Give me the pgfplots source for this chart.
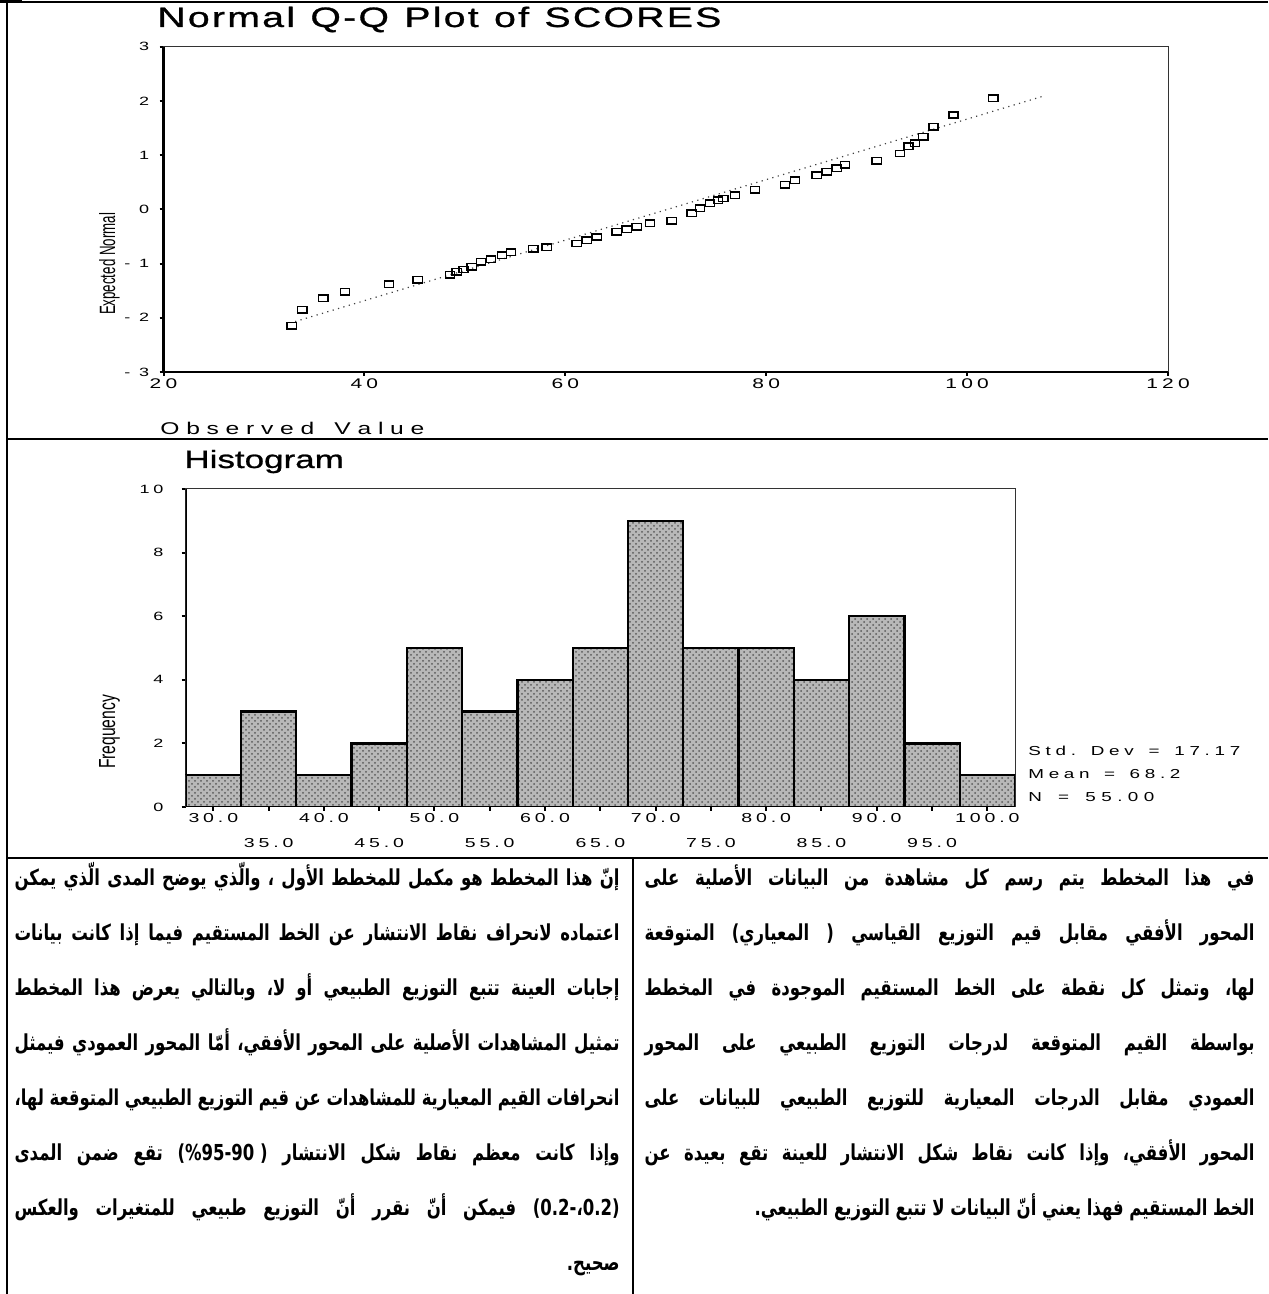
\documentclass[border=0pt]{standalone}
\usepackage{fontspec}
\usepackage{pgfplots}
\pgfplotsset{compat=1.18}
\usetikzlibrary{patterns}
\TeXXeTstate=1
\setmainfont{Liberation Sans}
\newfontfamily\spss{Liberation Sans}[FakeStretch=1.4,FakeBold=1]
\newfontfamily\spssl{Liberation Sans}[FakeStretch=1.45]
\newfontfamily\spsst{Liberation Sans}[FakeStretch=1.5,LetterSpace=30]
\newfontfamily\arab[Script=Arabic,FakeStretch=0.75]{DejaVu Sans}
\newfontfamily\dvs[FakeStretch=0.75]{DejaVu Sans}
\makeatletter
\newcommand\lfill[1]{\@tfor\lf@c:=#1\do{\lf@c\hfil}\unskip}
\makeatother
\newcommand\sptext[3]{\makebox[#1][s]{\fontsize{#2}{#2}\spss\lfill{#3}}}
\newcommand\sptextl[3]{\makebox[#1][s]{\fontsize{#2}{#2}\spssl\lfill{#3}}}
% justified line: #2 already holds \beginR ... \endR
\newcommand\arj[2]{\setbox0\hbox{#2}\ifdim\wd0>#1\relax\resizebox{#1}{!}{#2}\else\hbox to #1{#2}\fi}
\newcommand\lb[1]{\hbox{\dvs\bfseries #1}}
\begin{document}
\begin{tikzpicture}[x=0.5pt,y=0.5pt]
\path[use as bounding box] (0,0) rectangle (1268,1294);
% frame
\draw[line width=1pt] (7,0) -- (7,1294);
\draw[line width=0.75pt] (7,1294-2) -- (1268,1294-2);
\draw[line width=1.5pt] (0,1294-2) -- (22,1294-2);
\draw[line width=0.75pt] (7,1294-439) -- (1268,1294-439);
\draw[line width=0.75pt] (7,1294-858) -- (1268,1294-858);
\draw[line width=0.75pt] (633,1294-858) -- (633,0);
% Q-Q plot
\begin{axis}[at={(81.75pt,461pt)}, anchor=south west, scale only axis,
  width=502.25pt, height=162.65pt,
  xmin=20, xmax=120, ymin=-3, ymax=3,
  xtick={20,40,60,80,100,120}, xticklabels={20,40,60,80,100,120},
  ytick={-3,-2,-1,0,1,2,3}, yticklabels={- 3,- 2,- 1,0,1,2,3},
  tick align=outside, xtick pos=left, ytick pos=left, major tick length=2pt,
  every tick/.style={black, line width=1pt},
  axis line style={line width=0.5pt, black!80},
  xticklabel style={font=\fontsize{7pt}{7pt}\spsst, inner sep=1pt},
  yticklabel style={font=\fontsize{6pt}{6pt}\spsst, inner sep=1pt, xshift=-4pt},
  clip=false]
\draw[line width=1.3pt] (rel axis cs:0,1) -- (rel axis cs:0,0) -- (rel axis cs:1,0);
\addplot[black!75, line width=0.6pt, dash pattern=on 0.6pt off 2.2pt] coordinates {(33.1,-2.07) (107.8,2.10)};
\addplot[only marks, mark=square, mark size=2.3pt, mark options={yscale=0.7, line width=0.75pt, black}] coordinates {
(32.76,-2.15) (33.82,-1.85) (35.91,-1.64) (38.07,-1.52) (42.45,-1.38) (45.31,-1.30)
(48.52,-1.21) (49.19,-1.15) (49.85,-1.11) (50.68,-1.06) (51.61,-0.97) (52.60,-0.92)
(53.70,-0.85) (54.59,-0.79) (56.81,-0.73) (58.15,-0.70) (61.13,-0.63) (62.13,-0.57)
(63.13,-0.51) (65.12,-0.41) (66.11,-0.37) (67.11,-0.32) (68.43,-0.26) (70.59,-0.21)
(72.58,-0.07) (73.41,0.02) (74.41,0.11) (75.20,0.17) (75.73,0.20) (76.89,0.26)
(78.89,0.36) (81.87,0.45) (82.87,0.54) (85.03,0.63) (86.02,0.69) (87.02,0.76)
(87.84,0.82) (91.00,0.90) (93.32,1.03) (94.15,1.16) (94.81,1.22) (95.64,1.34)
(96.64,1.52) (98.63,1.74) (102.61,2.05)};
\end{axis}
% Histogram
\begin{axis}[at={(92.85pt,243.5pt)}, anchor=south west, scale only axis,
  width=414.65pt, height=159pt,
  xmin=27.5, xmax=102.5, ymin=0, ymax=10,
  xtick={30,40,...,100}, xticklabels={30.0,40.0,50.0,60.0,70.0,80.0,90.0,100.0},
  extra x ticks={35,45,...,95}, extra x tick labels={35.0,45.0,55.0,65.0,75.0,85.0,95.0},
  extra x tick style={xticklabel style={yshift=-12.5pt}},
  ytick={0,2,4,6,8,10}, yticklabels={0,2,4,6,8,10},
  tick align=outside, xtick pos=left, ytick pos=left, major tick length=2pt,
  every tick/.style={black, line width=1pt},
  axis line style={line width=0.5pt, black!80},
  xticklabel style={font=\fontsize{6.5pt}{6.5pt}\spsst, inner sep=1pt},
  yticklabel style={font=\fontsize{6pt}{6pt}\spsst, inner sep=1pt, xshift=-8pt}]
\draw[line width=1.3pt] (rel axis cs:0,1) -- (rel axis cs:0,0) -- (rel axis cs:1,0);
\addplot[ybar, bar width=5, bar shift=0pt, fill=black!28, draw=black, line width=1.2pt,
  postaction={pattern=crosshatch dots, pattern color=black!65}] coordinates {
(30,1) (35,3) (40,1) (45,2) (50,5) (55,3) (60,4) (65,5) (70,9) (75,5) (80,5) (85,4) (90,6) (95,2) (100,1)};
\end{axis}
% chart texts
\node[anchor=base west, inner sep=0pt] at (157,1294-27) {\sptext{282pt}{14pt}{Normal~Q-Q~Plot~of~SCORES}};
\node[anchor=base west, inner sep=0pt] at (160,1294-435) {\sptextl{132pt}{8.5pt}{Observed~Value}};
\node[anchor=base west, inner sep=0pt] at (184,1294-468) {\sptext{78pt}{12.5pt}{Histogram}};
\node[anchor=base west, inner sep=0pt] at (1028,1294-756) {\sptextl{106pt}{6.5pt}{Std.~Dev~=~17.17}};
\node[anchor=base west, inner sep=0pt] at (1028,1294-779) {\sptextl{76pt}{6.5pt}{Mean~=~68.2}};
\node[anchor=base west, inner sep=0pt] at (1028,1294-802) {\sptextl{63pt}{6.5pt}{N~=~55.00}};
\node[rotate=90, anchor=base, inner sep=0pt] at (115,1294-264) {\resizebox{51pt}{8pt}{Expected Normal}};
\node[rotate=90, anchor=base, inner sep=0pt] at (115,1294-732) {\resizebox{37pt}{8pt}{Frequency}};
% Arabic text
\begin{scope}[every node/.style={inner sep=0pt, anchor=base east, font=\arab\bfseries\fontsize{11pt}{13pt}\selectfont}]
\node at (620,1294-886) {\arj{302.5pt}{\beginR إنّ هذا المخطط هو مكمل للمخطط الأول ، والّذي يوضح المدى الّذي يمكن\endR}};
\node at (620,1294-941) {\arj{302.5pt}{\beginR اعتماده لانحراف نقاط الانتشار عن الخط المستقيم فيما إذا كانت  بيانات\endR}};
\node at (620,1294-996) {\arj{302.5pt}{\beginR إجابات العينة تتبع التوزيع الطبيعي أو لا، وبالتالي يعرض هذا المخطط\endR}};
\node at (620,1294-1051) {\arj{302.5pt}{\beginR تمثيل المشاهدات الأصلية على المحور الأفقي، أمّا المحور العمودي فيمثل\endR}};
\node at (620,1294-1106) {\arj{302.5pt}{\beginR انحرافات القيم المعيارية للمشاهدات عن قيم التوزيع الطبيعي المتوقعة لها،\endR}};
\node at (620,1294-1161) {\arj{302.5pt}{\beginR وإذا كانت معظم نقاط شكل الانتشار \lb{\hbox{)}\hbox{ }\hbox{90}\hbox{-}\hbox{95}\hbox{\%}\hbox{(}} تقع ضمن المدى\endR}};
\node at (620,1294-1216) {\arj{302.5pt}{\beginR \lb{\hbox{)}\hbox{0.2}\hbox{،}\hbox{-}\hbox{0.2}\hbox{(}} فيمكن أنّ نقرر أنّ التوزيع طبيعي للمتغيرات    والعكس\endR}};
\node at (620,1294-1271) {\hbox{\beginR صحيح.\endR}};
\node at (1255,1294-886) {\arj{305pt}{\beginR في هذا المخطط يتم رسم كل مشاهدة من البيانات الأصلية على\endR}};
\node at (1255,1294-941) {\arj{305pt}{\beginR المحور الأفقي مقابل قيم التوزيع القياسي ( المعياري) المتوقعة\endR}};
\node at (1255,1294-996) {\arj{305pt}{\beginR لها، وتمثل كل نقطة على الخط المستقيم الموجودة في المخطط\endR}};
\node at (1255,1294-1051) {\arj{305pt}{\beginR بواسطة القيم المتوقعة لدرجات التوزيع الطبيعي على المحور\endR}};
\node at (1255,1294-1106) {\arj{305pt}{\beginR العمودي مقابل الدرجات المعيارية للتوزيع الطبيعي للبيانات على\endR}};
\node at (1255,1294-1161) {\arj{305pt}{\beginR المحور الأفقي، وإذا كانت نقاط شكل الانتشار للعينة تقع بعيدة عن\endR}};
\node at (1255,1294-1216) {\hbox{\beginR الخط المستقيم فهذا يعني أنّ البيانات لا تتبع التوزيع الطبيعي.\endR}};
\end{scope}
\end{tikzpicture}
\end{document}
